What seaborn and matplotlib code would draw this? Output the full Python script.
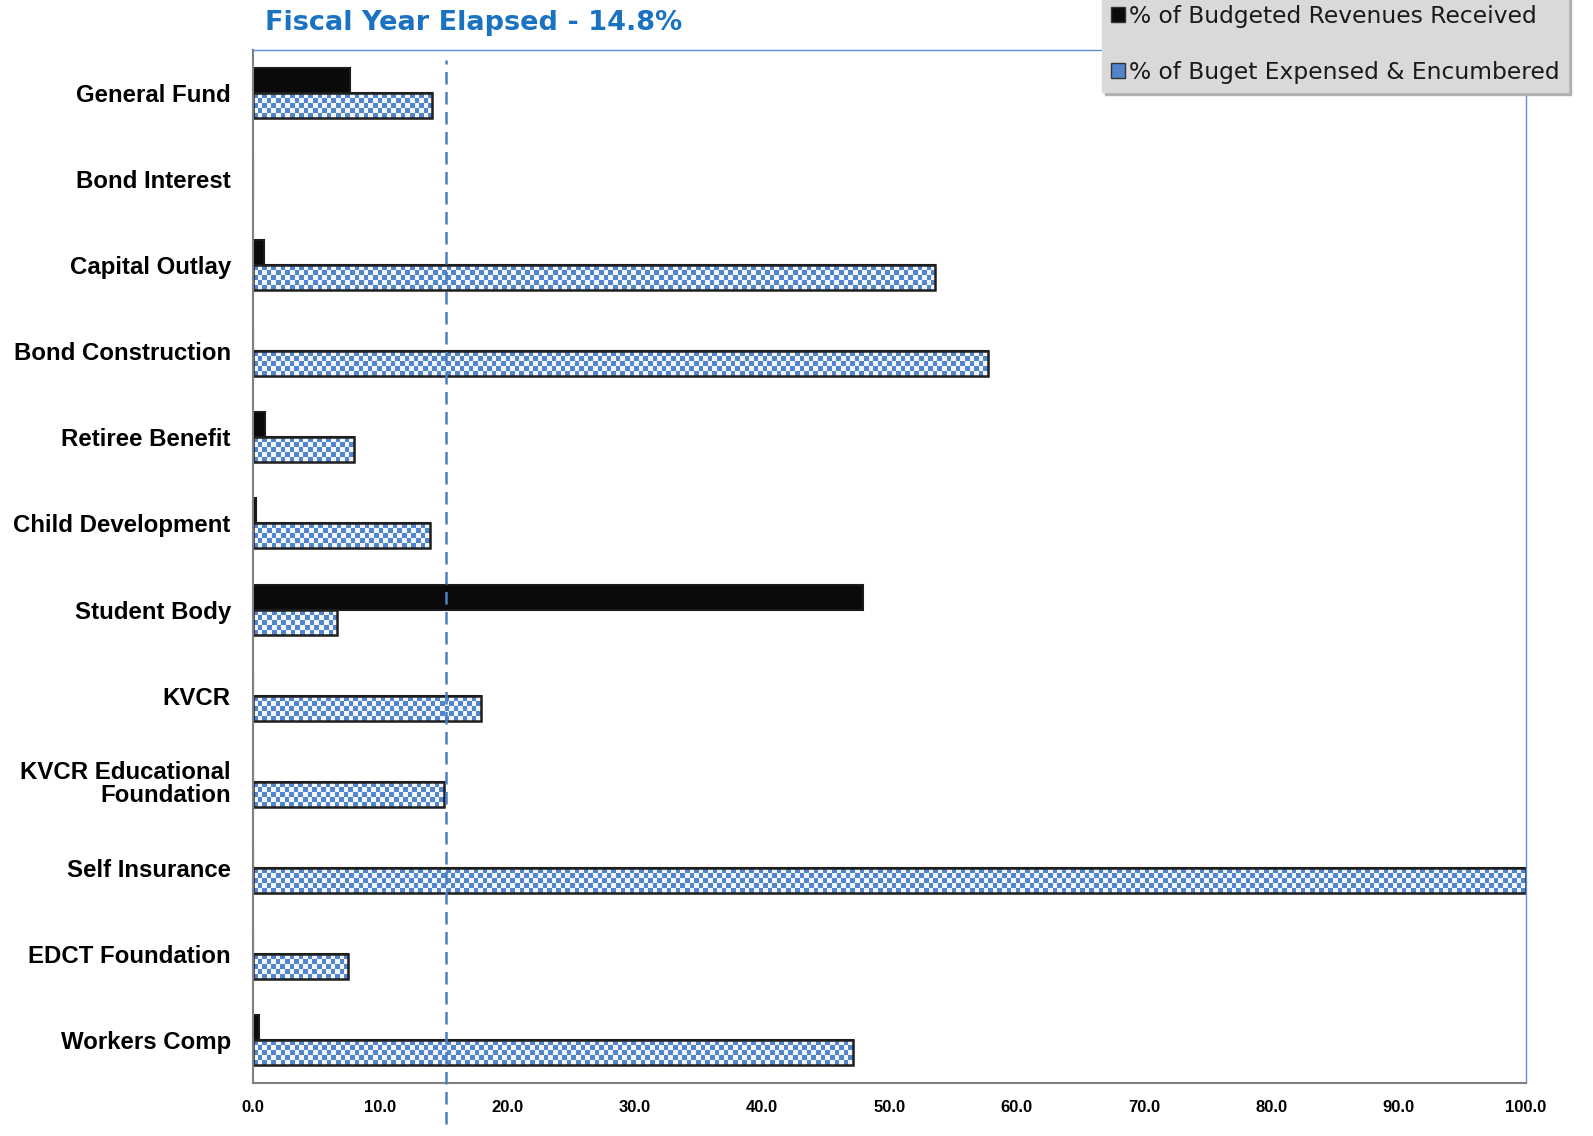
import numpy as np
import pandas as pd
import seaborn as sns
import matplotlib.pyplot as plt
from matplotlib.colors import ListedColormap
from matplotlib.patches import Patch

# Fund names and the two percentage series
funds = ['General Fund', 'Bond Interest', 'Capital Outlay', 'Bond Construction',
         'Retiree Benefit', 'Child Development', 'Student Body', 'KVCR',
         'KVCR Educational\nFoundation', 'Self Insurance', 'EDCT Foundation',
         'Workers Comp']
revenues = [7.6, 0.0, 0.9, 0.0, 0.95, 0.25, 47.9, 0.0, 0.0, 0.0, 0.0, 0.5]
expensed = [14.1, 0.0, 53.6, 57.7, 7.9, 13.9, 6.6, 17.9, 15.0, 100.0, 7.5, 47.1]
series_names = ['% of Budgeted Revenues Received', '% of Buget Expensed & Encumbered']
elapsed_line = 15.2
title_text = 'Fiscal Year Elapsed - 14.8%'
xticks = [0, 10, 20, 30, 40, 50, 60, 70, 80, 90, 100]

df = pd.DataFrame({
    'fund': funds * 2,
    'pct': revenues + expensed,
    'series': [series_names[0]] * len(funds) + [series_names[1]] * len(funds),
})

sns.set_style('white')
plt.rcParams['font.family'] = ['Liberation Sans', 'DejaVu Sans']
plt.rcParams['text.color'] = 'black'
plt.rcParams['xtick.color'] = 'black'
plt.rcParams['ytick.color'] = 'black'

fig = plt.figure(figsize=(15.93, 11.36), dpi=100)
ax = fig.add_axes([253 / 1593, 1 - 1083 / 1136, (1526 - 253) / 1593, (1083 - 50) / 1136])

sns.barplot(data=df, y='fund', x='pct', hue='series', orient='h',
            palette=['#0a0a0a', '#ffffff'], width=0.58, dodge=True,
            edgecolor='#1a1a1a', linewidth=1.5, legend=False, ax=ax)

ax.set_xlim(0, 100)
ylim = ax.get_ylim()

# checkered fill for the expensed bars
checker_cmap = ListedColormap(['#5286cc', '#f2f6fc'])
for bar in ax.containers[1]:
    w = bar.get_width()
    if w <= 0:
        continue
    y0 = bar.get_y()
    h = bar.get_height()
    nx = max(int(round(w / 100 * 1273 / 4.6)), 1)
    ny = max(int(round(h / 12 * 1033 / 4.6)), 1)
    checker = (np.add.outer(np.arange(ny), np.arange(nx)) % 2).astype(float)
    im = ax.imshow(checker, extent=(0, w, y0 + h, y0), cmap=checker_cmap,
                   aspect='auto', interpolation='nearest', zorder=bar.get_zorder() + 0.1)
    im.set_clip_path(bar)
    ax.add_patch(plt.Rectangle((0, y0), w, h, fill=False, edgecolor='#1f1f1f',
                               linewidth=1.8, zorder=bar.get_zorder() + 0.2))

ax.set_ylim(ylim)
ax.set_xlim(0, 100)

ax.axvline(elapsed_line, ymin=-0.04, ymax=0.99, color='#4a7fc1', linestyle=(0, (5, 3)),
           linewidth=1.8, clip_on=False, zorder=5)

ax.set_xticks(xticks)
ax.set_xticklabels([f'{v:.1f}' for v in xticks], fontsize=12, fontweight='bold')
ax.tick_params(axis='x', length=0, pad=12)
ax.set_yticks(range(len(funds)))
ax.set_yticklabels(funds, fontsize=17.3, fontweight='bold', linespacing=1.0)
ax.tick_params(axis='y', which='major', length=0, pad=16)
ax.set_yticks(np.arange(-0.5, len(funds)), minor=True)
ax.tick_params(axis='y', which='minor', length=8, color='#808080', width=1.2)
ax.set_xlabel('')
ax.set_ylabel('')

for side in ['left', 'bottom']:
    ax.spines[side].set_color('#808080')
    ax.spines[side].set_linewidth(1.5)
for side in ['top', 'right']:
    ax.spines[side].set_color('#5b8fd6')
    ax.spines[side].set_linewidth(1.0)

fig.text(265 / 1593, 1 - 23 / 1136, title_text, color='#1a73c2', fontsize=19.5,
         fontweight='bold', va='center', ha='left', family=['DejaVu Sans'])

handles = [Patch(facecolor='#0a0a0a', edgecolor='#333333'),
           Patch(facecolor='#5286cc', edgecolor='#333333')]
leg = fig.legend(handles, series_names, loc='upper right',
                 bbox_to_anchor=(1568 / 1593, 1 + 4 / 1136), frameon=True,
                 fancybox=False, shadow={'color': '#b0b0b0', 'alpha': 1.0},
                 prop={'family': 'DejaVu Sans', 'size': 16.8},
                 handlelength=0.6, handleheight=0.6, handletextpad=0.15,
                 labelspacing=1.4, borderpad=0.38, borderaxespad=0)
leg.get_frame().set_facecolor('#d9d9d9')
leg.get_frame().set_edgecolor('#d9d9d9')
leg.get_frame().set_alpha(1)
for t in leg.get_texts():
    t.set_color('#1a1a1a')

fig.savefig('out.png', dpi=100)
